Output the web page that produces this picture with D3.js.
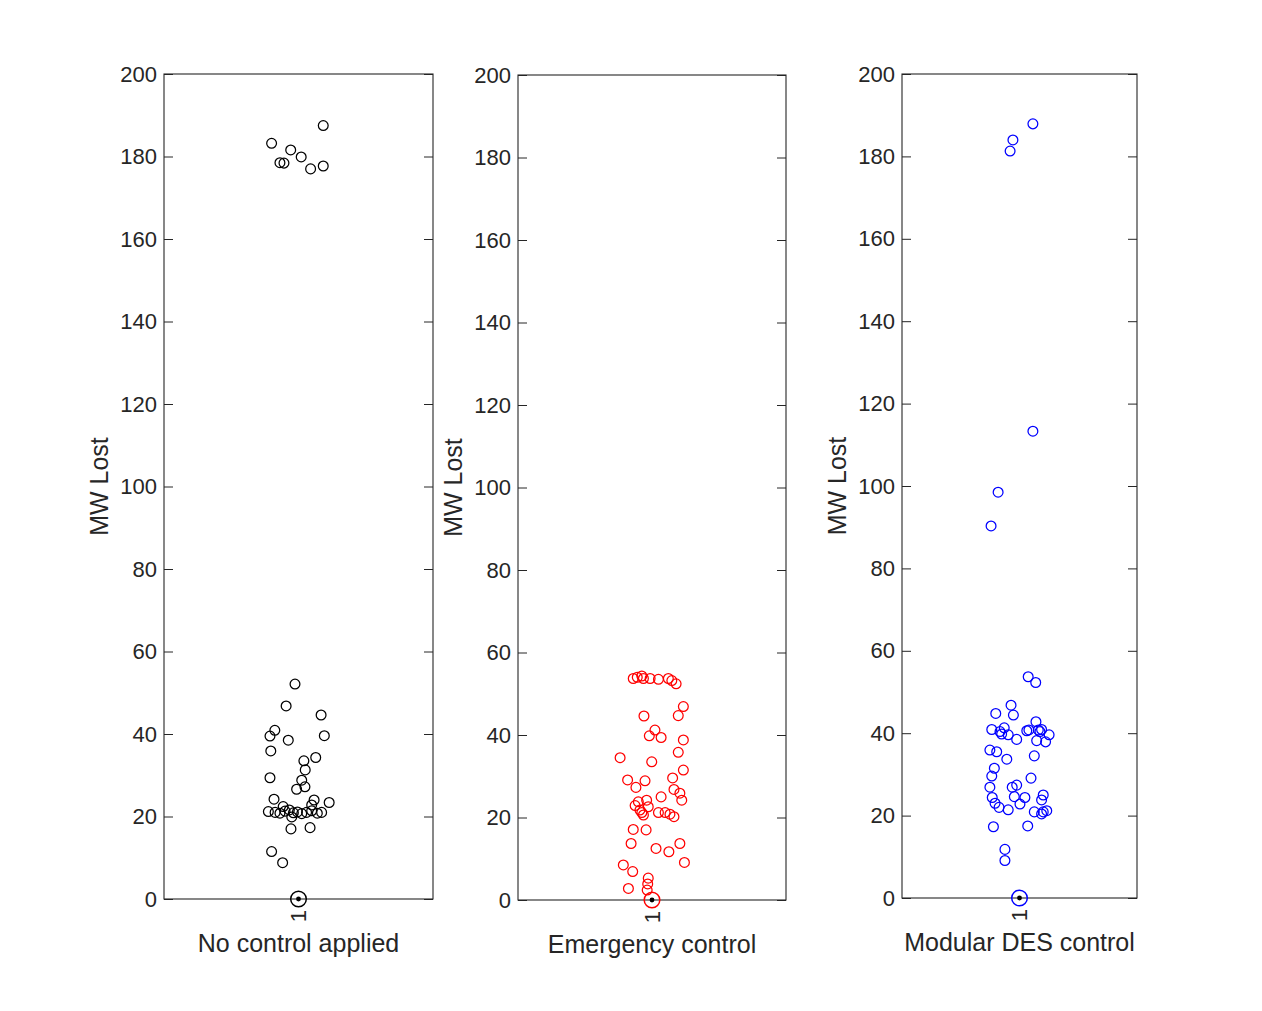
<!DOCTYPE html>
<html>
<head>
<meta charset="utf-8">
<script src="https://cdn.jsdelivr.net/npm/d3@7"></script>
<style>
  body { margin: 0; background: #fff; }
  text { font-family: "Liberation Sans", Arial, Helvetica, sans-serif; fill: #262626; }
</style>
</head>
<body>
<div id="chart"></div>
<script>
// ---- data ----
var groupNames = ['No control applied', 'Emergency control', 'Modular DES control'];
var yTicks = [0, 20, 40, 60, 80, 100, 120, 140, 160, 180, 200];
var xTickLabel = '1';
var medians = [0, 0, 0];

// jittered outliers: x position (around group 1) and MW lost
var noCtrlX = [1.092, 0.900, 0.971, 1.010, 0.931, 0.946, 1.045, 1.092,
    0.987, 0.954, 1.084, 0.912, 0.894, 0.962, 1.096, 0.897, 1.064, 1.020, 1.025, 0.894,
    1.012, 1.024, 0.993, 0.909, 1.058, 1.114, 1.049, 0.943,
    0.888, 0.913, 0.931, 0.950, 0.966, 0.981, 0.996, 1.012, 1.030, 1.049, 1.070, 1.086,
    0.975, 0.972, 1.043, 0.900, 0.941];
var noCtrlY = [187.5, 183.2, 181.6, 179.9, 178.5, 178.4, 177.0, 177.7,
    52.1, 46.8, 44.6, 40.9, 39.5, 38.5, 39.6, 35.9, 34.3, 33.5, 31.3, 29.4,
    28.8, 27.2, 26.6, 24.2, 24.0, 23.4, 22.8, 22.4,
    21.2, 21.0, 20.8, 21.3, 21.6, 20.9, 21.1, 20.7, 21.0, 21.4, 20.8, 21.0,
    19.9, 17.0, 17.3, 11.5, 8.8];

var emergX = [0.930, 0.945, 0.962, 0.968, 0.993, 1.024, 1.061, 1.074, 1.090,
    1.117, 0.970, 1.098, 1.011, 0.990, 1.034, 1.117, 0.881, 0.999, 1.098, 1.117,
    0.909, 0.974, 0.940, 1.077, 1.082, 1.104, 1.111, 1.034,
    0.937, 0.949, 0.980, 0.986, 0.955, 0.968, 0.962, 1.024, 1.049, 1.067, 1.082,
    0.930, 0.978, 0.922, 1.015, 1.063, 1.104, 1.121, 0.893, 0.928,
    0.986, 0.984, 0.982, 0.912];
var emergY = [53.7, 54.0, 54.3, 53.7, 53.7, 53.5, 53.7, 53.2, 52.4,
    46.9, 44.6, 44.7, 41.2, 39.8, 39.4, 38.8, 34.5, 33.5, 35.8, 31.5,
    29.1, 28.9, 27.3, 29.6, 26.8, 25.9, 24.2, 25.0,
    22.9, 23.8, 24.2, 22.6, 21.8, 20.6, 21.2, 21.2, 21.2, 20.8, 20.2,
    17.1, 17.0, 13.7, 12.5, 11.7, 13.7, 9.1, 8.5, 6.9,
    5.3, 3.9, 2.4, 2.8];

var modularX = [1.057, 0.972, 0.960, 1.057, 0.909, 0.879,
    1.037, 1.069, 0.964, 0.899, 0.974, 1.070, 0.882, 0.917, 0.935, 0.952, 0.924,
    0.988, 1.031, 1.040, 1.080, 1.094, 1.126, 1.073, 1.111, 1.087,
    0.874, 0.903, 0.946, 1.063, 0.893, 0.882, 1.049, 0.874, 0.969, 0.988,
    0.884, 0.978, 1.023, 1.101, 1.094, 0.896, 0.913, 0.952, 1.002,
    1.063, 1.094, 1.116, 1.101, 0.889, 1.035, 0.938, 0.938];
var modularY = [187.9, 184.0, 181.3, 113.3, 98.5, 90.3,
    53.7, 52.3, 46.8, 44.8, 44.4, 42.8, 40.9, 40.4, 41.3, 39.6, 39.8,
    38.5, 40.6, 40.8, 40.8, 40.9, 39.6, 38.2, 37.9, 40.4,
    35.9, 35.5, 33.7, 34.5, 31.5, 29.6, 29.1, 26.9, 26.9, 27.4,
    24.4, 24.6, 24.4, 25.0, 23.8, 23.0, 22.0, 21.4, 22.8,
    20.9, 20.4, 21.2, 20.9, 17.3, 17.5, 11.8, 9.1];

var seriesX = [noCtrlX, emergX, modularX];
var seriesY = [noCtrlY, emergY, modularY];
var colors = ['#000000', '#ff0000', '#0000ff'];

// ---- layout ----
var W = 1262, H = 1011;
var panels = [
    {left: 164, right: 433, top: 74, bottom: 899},
    {left: 518, right: 786, top: 75, bottom: 900},
    {left: 902, right: 1137, top: 74, bottom: 898}
];
var tickFont = 22, labelFont = 25, tickLen = 9;

var svg = d3.select('#chart').append('svg')
    .attr('width', W)
    .attr('height', H);

panels.forEach(function(p, i) {
    var x = d3.scaleLinear().domain([0.5, 1.5]).range([p.left, p.right]);
    var y = d3.scaleLinear().domain([0, 200]).range([p.bottom, p.top]);
    var g = svg.append('g');

    // left axis with labels, ticks pointing inward
    var yl = g.append('g')
        .attr('transform', 'translate(' + p.left + ',0)')
        .call(d3.axisLeft(y).tickValues(yTicks).tickSize(-tickLen).tickPadding(7));
    // right axis, ticks only
    var yr = g.append('g')
        .attr('transform', 'translate(' + p.right + ',0)')
        .call(d3.axisRight(y).tickValues(yTicks).tickSize(-tickLen).tickFormat(''));
    [yl, yr].forEach(function(a) {
        a.attr('font-family', null).attr('font-size', null);
        a.select('.domain').remove();
        a.selectAll('line').attr('stroke', '#262626').attr('stroke-width', 1);
    });
    yl.selectAll('text')
        .attr('fill', '#262626')
        .style('font-size', tickFont + 'px');

    // axes box
    g.append('rect')
        .attr('x', p.left)
        .attr('y', p.top)
        .attr('width', p.right - p.left)
        .attr('height', p.bottom - p.top)
        .attr('fill', 'none')
        .attr('stroke', '#262626')
        .attr('stroke-width', 1.1);

    // y label
    g.append('text')
        .attr('transform', 'translate(' + (p.left - 56) + ',' + ((p.top + p.bottom) / 2) + ') rotate(-90)')
        .attr('text-anchor', 'middle')
        .style('font-size', labelFont + 'px')
        .text('MW Lost');

    // inline group tick label
    g.append('text')
        .attr('transform', 'translate(' + x(1) + ',' + (p.bottom + 11) + ') rotate(-90)')
        .attr('text-anchor', 'end')
        .attr('dy', '0.36em')
        .style('font-size', tickFont + 'px')
        .text(xTickLabel);

    // x label
    g.append('text')
        .attr('x', x(1))
        .attr('y', p.bottom + 53)
        .attr('text-anchor', 'middle')
        .style('font-size', labelFont + 'px')
        .text(groupNames[i]);

    // outliers
    var pts = d3.zip(seriesX[i], seriesY[i]);
    g.selectAll('circle.outlier')
        .data(pts)
        .enter().append('circle')
        .attr('class', 'outlier')
        .attr('cx', function(d) { return x(d[0]); })
        .attr('cy', function(d) { return y(d[1]); })
        .attr('r', 4.9)
        .attr('fill', 'none')
        .attr('stroke', colors[i])
        .attr('stroke-width', 1.25);

    // median marker (compact style)
    g.append('circle')
        .attr('cx', x(1))
        .attr('cy', y(medians[i]))
        .attr('r', 7.8)
        .attr('fill', 'none')
        .attr('stroke', colors[i])
        .attr('stroke-width', 1.5);
    g.append('circle')
        .attr('cx', x(1))
        .attr('cy', y(medians[i]))
        .attr('r', 2.4)
        .attr('fill', '#000');
});
</script>
</body>
</html>
